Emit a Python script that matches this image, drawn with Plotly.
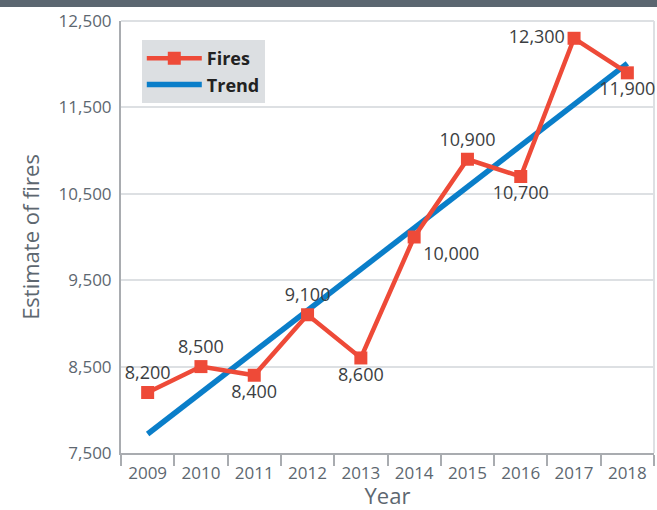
import plotly.graph_objects as go

years = ["2009", "2010", "2011", "2012", "2013", "2014", "2015", "2016", "2017", "2018"]
fires = [8200, 8500, 8400, 9100, 8600, 10000, 10900, 10700, 12300, 11900]
fire_labels = ["8,200", "8,500", "8,400", "9,100", "8,600", "10,000", "10,900", "10,700", "12,300", "11,900"]
label_pos = ["top center", "top center", "bottom center", "top center", "bottom center",
             "bottom right", "top center", "bottom center", "middle left", "bottom center"]
trend_years = ["2009", "2018"]
trend_vals = [7720, 12010]
y_ticks = [7500, 8500, 9500, 10500, 11500, 12500]

RED = "#ee4a38"
BLUE = "#0a7ec9"
GRAY_TXT = "#5d6770"
AXIS = "#a9acb0"
GRID = "#dde0e3"
FONT = "Open Sans"

fig = go.Figure()
fig.add_trace(go.Scatter(
    x=trend_years, y=trend_vals, name="Trend", mode="lines",
    line=dict(color=BLUE, width=5.5),
    cliponaxis=False,
))
fig.add_trace(go.Scatter(
    x=years, y=fires, name="Fires", mode="lines+markers+text",
    line=dict(color=RED, width=4.5),
    marker=dict(symbol="square", size=13, color=RED),
    text=fire_labels, textposition=label_pos,
    textfont=dict(family=FONT, size=18, color="#3b3e42"),
    cliponaxis=False,
))

fig.update_layout(
    width=657, height=510,
    margin=dict(l=121, r=3, t=21, b=57),
    paper_bgcolor="white", plot_bgcolor="white",
    font=dict(family=FONT, color=GRAY_TXT),
    showlegend=True,
    legend=dict(
        x=0.039, y=0.956, xanchor="left", yanchor="top",
        bgcolor="#dcdfe2", traceorder="reversed",
        font=dict(family=FONT, size=18, color="#222222", weight=700),
        borderwidth=0, itemwidth=55, tracegroupgap=0,
    ),
    xaxis=dict(
        type="category", categoryorder="array", categoryarray=years,
        range=[-0.5, 9.5],
        showline=True, linecolor=AXIS, linewidth=2,
        ticks="outside", tickson="boundaries", ticklen=11, tickwidth=2, tickcolor=AXIS,
        ticklabelstandoff=4,
        tickfont=dict(family=FONT, size=17, color=GRAY_TXT),
        showgrid=False,
        title=dict(text="Year", font=dict(family=FONT, size=22, color=GRAY_TXT), standoff=3),
    ),
    yaxis=dict(
        range=[7500, 12500], tickvals=y_ticks, tickformat=",",
        showline=True, linecolor=AXIS, linewidth=2,
        showgrid=True, gridcolor=GRID, gridwidth=1.5,
        ticks="", ticklabelstandoff=4,
        tickfont=dict(family=FONT, size=17, color=GRAY_TXT),
        zeroline=False,
        title=dict(text="Estimate of fires", font=dict(family=FONT, size=22, color=GRAY_TXT), standoff=13),
    ),
    shapes=[
        dict(type="line", xref="paper", yref="paper", x0=0, x1=1, y0=1, y1=1,
             line=dict(color=GRID, width=2), layer="below"),
        dict(type="line", xref="paper", yref="paper", x0=1, x1=1, y0=0, y1=1,
             line=dict(color=GRID, width=2), layer="below"),
        dict(type="rect", xref="paper", yref="paper", x0=-0.3, x1=1.1, y0=1 + 14 / 432, y1=1.1,
             line=dict(width=0), fillcolor="#5b6670", layer="above"),
    ],
)

fig.write_html("out.html", config={"displayModeBar": False},
               post_script="document.body.style.margin='0';")
